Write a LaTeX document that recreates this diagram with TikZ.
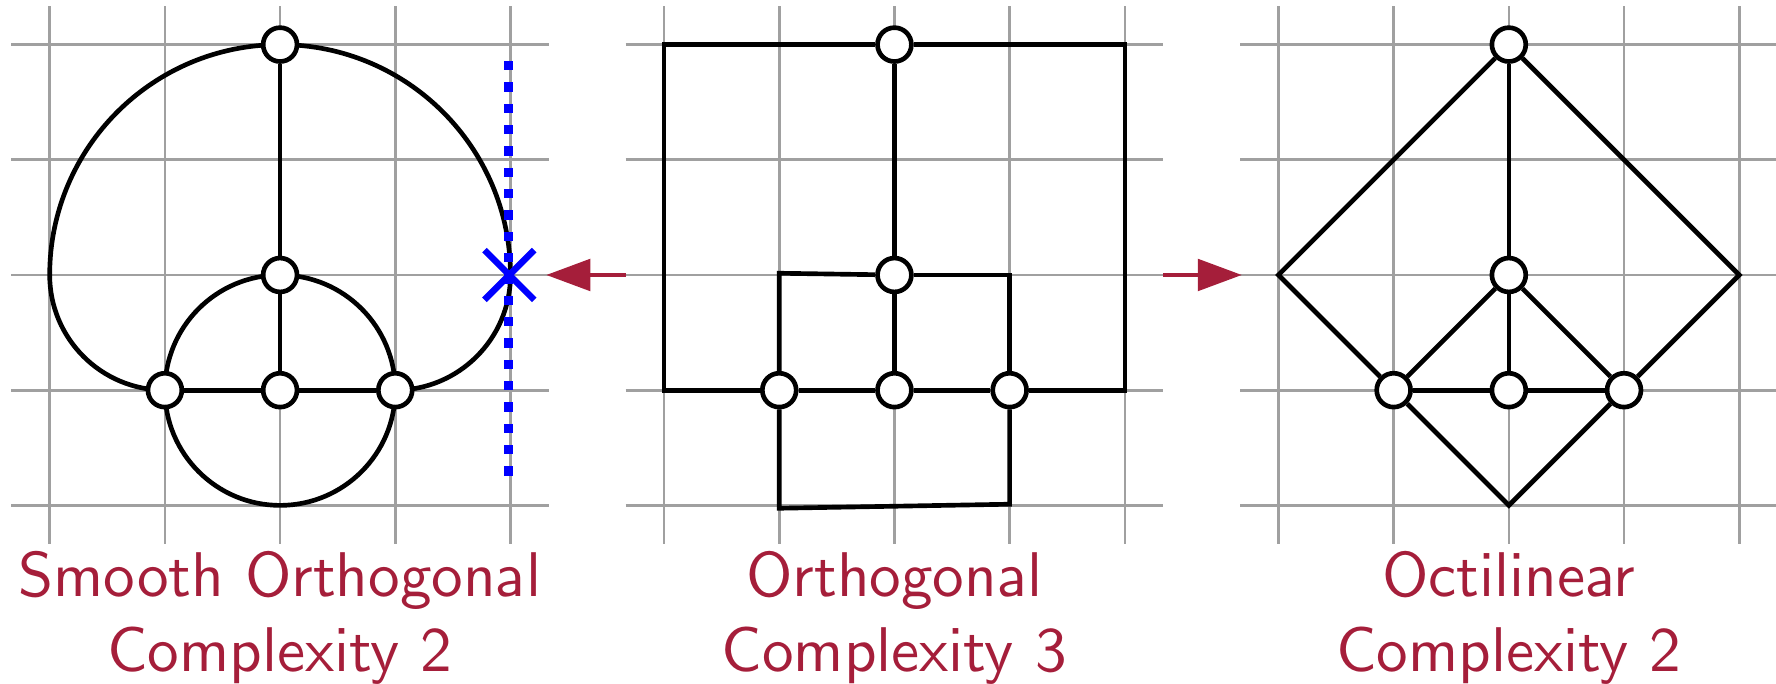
\documentclass[tikz,border=0pt]{standalone}
\usetikzlibrary{arrows.meta,shapes.misc}
\definecolor{gridgray}{RGB}{160,160,160}
\definecolor{crim}{RGB}{165,30,58}
\definecolor{pureblue}{RGB}{0,0,255}
\font\lblfont=cmss10 at 15.6pt
\pgfdeclarelayer{bg}
\pgfsetlayers{bg,main}
\begin{document}
\begin{tikzpicture}[x=1cm,y=1cm,
  gridline/.style={draw=gridgray, line width=0.66pt},
  edge/.style={draw=black, line width=1.15pt},
  vtx/.style={circle, draw=black, fill=white, line width=1.15pt, minimum size=0.294cm, inner sep=0pt},
  lbl/.style={text=crim, font=\lblfont, anchor=base, inner sep=0pt},
  redarrow/.style={draw=crim, line width=1.2pt, -{Triangle[length=10.9pt,width=7.7pt]}},
  bluedots/.style={draw=pureblue, line width=2.3pt, dash pattern=on 2.3pt off 2.97pt},
  xmark/.style={cross out, draw=pureblue, line width=1.6pt, minimum size=0.376cm, inner sep=0pt},
]
\useasboundingbox (-0.4314,-1.542) rectangle (14.986,4.387);

% grids
\begin{pgfonlayer}{bg}
\foreach \o in {0,5.3333,10.6667}{
  \foreach \k in {0,...,4}{
    \draw[gridline] (\o-0.3333,\k) -- (\o+4.3333,\k);
    \draw[gridline] (\o+\k,-0.3333) -- (\o+\k,4.3333);
  }
}
\end{pgfonlayer}

% ---------------- Panel 1: smooth orthogonal
\begin{scope}[shift={(0,0)}]
  \node[vtx] (aT) at (2,4) {};
  \node[vtx] (aC) at (2,2) {};
  \node[vtx] (aL) at (1,1) {};
  \node[vtx] (aM) at (2,1) {};
  \node[vtx] (aR) at (3,1) {};
  \coordinate (dtop) at (3.985,3.858);
  \coordinate (dbot) at (3.985,0.25);
  \coordinate (xm) at (3.99,2);
  \node[lbl] (t1a) at (2,-0.789) {Smooth Orthogonal};
  \node[lbl] (t1b) at (2,-1.446) {Complexity 2};
\end{scope}
\begin{pgfonlayer}{bg}
  \draw[edge] (aT) -- (aC);
  \draw[edge] (aC) -- (aM);
  \draw[edge] (aL) -- (aM) -- (aR);
  \draw[edge] (aM.center) circle[radius=1];
  \draw[edge] (aL.center) arc[start angle=270,end angle=180,radius=1]
                          arc[start angle=180,end angle=0,radius=2]
                          arc[start angle=0,end angle=-90,radius=1];
\end{pgfonlayer}
\draw[bluedots] (dtop) -- (dbot);
\node[xmark] (xmk) at (xm) {};

% ---------------- Panel 2: orthogonal
\begin{scope}[shift={(5.3333,0)}]
  \node[vtx] (bT) at (2,4) {};
  \node[vtx] (bC) at (2,2) {};
  \node[vtx] (bL) at (1,1) {};
  \node[vtx] (bM) at (2,1) {};
  \node[vtx] (bR) at (3,1) {};
  \coordinate (c1) at (0,1);
  \coordinate (c2) at (0,4);
  \coordinate (c3) at (4,4);
  \coordinate (c4) at (4,1);
  \coordinate (c5) at (1,2.015);
  \coordinate (c6) at (3,2);
  \coordinate (c7) at (1,-0.025);
  \coordinate (c8) at (3,0.01);
  \node[lbl] (t2a) at (2,-0.789) {Orthogonal};
  \node[lbl] (t2b) at (2,-1.446) {Complexity 3};
\end{scope}
\begin{pgfonlayer}{bg}
  \draw[edge] (bL) -- (c1) -- (c2) -- (bT);
  \draw[edge] (bT) -- (c3) -- (c4) -- (bR);
  \draw[edge] (bT) -- (bC);
  \draw[edge] (bC) -- (c5) -- (bL);
  \draw[edge] (bC) -- (c6) -- (bR);
  \draw[edge] (bC) -- (bM);
  \draw[edge] (bL) -- (bM) -- (bR);
  \draw[edge] (bL) -- (c7) -- (c8) -- (bR);
\end{pgfonlayer}

% ---------------- Panel 3: octilinear
\begin{scope}[shift={(10.6667,0)}]
  \node[vtx] (cT) at (2,4) {};
  \node[vtx] (cC) at (2,2) {};
  \node[vtx] (cL) at (1,1) {};
  \node[vtx] (cM) at (2,1) {};
  \node[vtx] (cR) at (3,1) {};
  \coordinate (d1) at (0,2);
  \coordinate (d2) at (4,2);
  \coordinate (d3) at (2,0);
  \node[lbl] (t3a) at (2,-0.789) {Octilinear};
  \node[lbl] (t3b) at (2,-1.446) {Complexity 2};
\end{scope}
\begin{pgfonlayer}{bg}
  \draw[edge] (cL) -- (d1) -- (cT);
  \draw[edge] (cT) -- (d2) -- (cR);
  \draw[edge] (cT) -- (cC);
  \draw[edge] (cC) -- (cL);
  \draw[edge] (cC) -- (cR);
  \draw[edge] (cC) -- (cM);
  \draw[edge] (cL) -- (cM) -- (cR);
  \draw[edge] (cL) -- (d3) -- (cR);
\end{pgfonlayer}

% ---------------- arrows
\coordinate (r1s) at (5,2);
\coordinate (r1e) at (4.31,2);
\coordinate (r2s) at (9.6667,2);
\coordinate (r2e) at (10.35,2);
\draw[redarrow] (r1s) -- (r1e);
\draw[redarrow] (r2s) -- (r2e);
\end{tikzpicture}
\end{document}
